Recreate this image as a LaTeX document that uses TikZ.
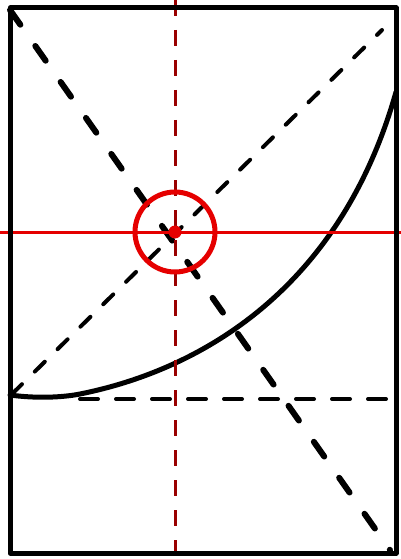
\documentclass[tikz,border=0pt]{standalone}
\begin{document}
\begin{tikzpicture}[x=1pt,y=-1pt,
  framestyle/.style={line width=5pt,black,line join=round},
  thickdash/.style={line width=6pt,black,line cap=round,dash pattern=on 18pt off 26pt},
  thindash/.style={line width=4pt,black,line cap=round,dash pattern=on 14pt off 18pt},
  hdash/.style={line width=4pt,black,line cap=round,dash pattern=on 18pt off 18pt},
  reddash/.style={line width=3pt,red!60!black,dash pattern=on 16pt off 14pt},
  redline/.style={line width=3pt,red!90!black},
  curvestyle/.style={line width=5pt,black,line cap=round}]
\fill[white] (0,0) rectangle (401,559);
\useasboundingbox (0,0) rectangle (401,559);
\coordinate (tl) at (10,10);
\coordinate (br) at (390,550);
\coordinate (bl) at (12,394);
\coordinate (tr) at (382,30);
\coordinate (hs) at (80,399);
\coordinate (he) at (392,399);
\coordinate (c) at (175,232);
\draw[thickdash] (tl) -- (br);
\draw[thindash] (bl) -- (tr);
\draw[hdash] (hs) -- (he);
\draw[curvestyle] (10,395) .. controls (35,398.5) and (62,397.6) .. (80,394)
  .. controls (200,370) and (340,290) .. (396,92);
\draw[reddash] (175,0) -- (175,559);
\draw[redline] (0,232) -- (401,232);
\draw[line width=5pt,red!90!black] (c) circle (40);
\fill[red!90!black] (c) circle (6.5);
\draw[framestyle] (10,8) rectangle (396,553);
\end{tikzpicture}
\end{document}
